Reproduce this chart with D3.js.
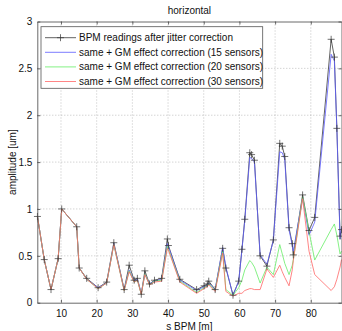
<!DOCTYPE html>
<html>
<head>
<meta charset="utf-8">
<script src="https://cdn.jsdelivr.net/npm/d3@7"></script>
<style>
  body { margin: 0; background: #fff; }
  svg { display: block; font-family: "Liberation Sans", Arial, sans-serif; }
</style>
</head>
<body>
<div id="wrapper"></div>
<script>
// BPM positions [m]
const sPos = [3.4, 5.3, 7.2, 9.2, 10.2, 14.4, 15.1, 17.2, 20.4, 22.8, 24.8, 27.7, 29.1, 30.5, 31.4, 32.5, 33.5, 34.8, 36.2, 38.2,
  39.8, 40.1, 43.3, 48.0, 50.1, 51.0, 51.4, 53.2, 55.3, 56.2, 58.2, 59.8, 60.7, 61.5, 62.9, 63.4, 64.2, 65.8, 67.7, 69.5,
  71.3, 72.0, 72.7, 73.9, 74.8, 75.1, 77.7, 79.5, 81.1, 85.7, 86.6, 87.3, 88.2, 88.6]

// BPM readings after jitter correction
const ampJitter = [0.92, 0.46, 0.14, 0.47, 1.00, 0.81, 0.37, 0.26, 0.16, 0.22, 0.64, 0.14, 0.40, 0.24, 0.26, 0.09, 0.34, 0.20, 0.24, 0.26,
  0.68, 0.61, 0.25, 0.14, 0.18, 0.20, 0.23, 0.14, 0.58, 0.37, 0.08, 0.23, 0.57, 0.89, 1.60, 1.58, 1.52, 0.50, 0.39, 0.67,
  1.70, 1.67, 1.56, 0.80, 0.63, 0.51, 1.15, 0.77, 0.91, 2.81, 2.62, 1.86, 0.71, 0.78]

// same + GM effect correction (15 sensors)
const amp15 = [0.92, 0.46, 0.14, 0.47, 1.00, 0.81, 0.37, 0.25, 0.16, 0.21, 0.63, 0.14, 0.35, 0.23, 0.25, 0.10, 0.31, 0.20, 0.23, 0.25,
  0.63, 0.60, 0.24, 0.13, 0.17, 0.19, 0.21, 0.14, 0.59, 0.38, 0.08, 0.23, 0.56, 0.88, 1.55, 1.54, 1.50, 0.51, 0.41, 0.66,
  1.61, 1.60, 1.53, 0.78, 0.61, 0.55, 1.12, 0.72, 0.86, 2.65, 2.58, 1.86, 0.68, 0.80]

// same + GM effect correction (20 sensors)
const amp20 = [0.92, 0.46, 0.14, 0.47, 1.00, 0.81, 0.37, 0.25, 0.15, 0.21, 0.62, 0.13, 0.34, 0.22, 0.24, 0.09, 0.31, 0.19, 0.23, 0.24,
  0.60, 0.57, 0.23, 0.11, 0.16, 0.18, 0.20, 0.13, 0.55, 0.14, 0.08, 0.16, 0.24, 0.35, 0.45, 0.43, 0.38, 0.21, 0.38, 0.30,
  0.62, 0.52, 0.42, 0.30, 0.40, 0.46, 1.13, 0.76, 0.455, 0.78, 0.84, 0.72, 0.52, 0.55]

// same + GM effect correction (30 sensors)
const amp30 = [0.92, 0.46, 0.14, 0.47, 1.00, 0.81, 0.37, 0.25, 0.15, 0.21, 0.62, 0.13, 0.33, 0.22, 0.24, 0.09, 0.30, 0.19, 0.22, 0.23,
  0.58, 0.56, 0.22, 0.10, 0.15, 0.17, 0.19, 0.12, 0.53, 0.12, 0.07, 0.10, 0.10, 0.13, 0.15, 0.15, 0.14, 0.14, 0.36, 0.27,
  0.40, 0.33, 0.27, 0.18, 0.35, 0.45, 1.11, 0.55, 0.30, 0.13, 0.17, 0.25, 0.38, 0.46]

const xTicks = [10, 20, 30, 40, 50, 60, 70, 80]
const yTicks = [0, 0.5, 1, 1.5, 2, 2.5, 3]

const legendLabels = [
  "BPM readings after jitter correction",
  "same + GM effect correction (15 sensors)",
  "same + GM effect correction (20 sensors)",
  "same + GM effect correction (30 sensors)",
]
const colors = ["#3a3a3a", "#5c5cff", "#66ee66", "#ff6666"]

function drawChart() {
  const dimensions = {
    width: 342,
    height: 331,
    margin: { top: 21.5, right: 0.5, bottom: 28.3, left: 37.3 },
  }
  dimensions.boundedWidth = dimensions.width - dimensions.margin.left - dimensions.margin.right
  dimensions.boundedHeight = dimensions.height - dimensions.margin.top - dimensions.margin.bottom

  const svg = d3.select("#wrapper").append("svg")
    .attr("width", dimensions.width)
    .attr("height", dimensions.height)

  const bounds = svg.append("g")
    .attr("transform", `translate(${dimensions.margin.left},${dimensions.margin.top})`)

  const xScale = d3.scaleLinear()
    .domain([3.36, 88.6])
    .range([0, dimensions.boundedWidth])
  const yScale = d3.scaleLinear()
    .domain([0, 3])
    .range([dimensions.boundedHeight, 0])

  // grid
  bounds.append("g").selectAll("line")
    .data(xTicks)
    .join("line")
    .attr("x1", d => xScale(d)).attr("x2", d => xScale(d))
    .attr("y1", 0).attr("y2", dimensions.boundedHeight)
    .attr("stroke", "#999").attr("stroke-width", 0.6)
    .attr("stroke-dasharray", "1,2")
  bounds.append("g").selectAll("line")
    .data(yTicks.slice(1, -1))
    .join("line")
    .attr("y1", d => yScale(d)).attr("y2", d => yScale(d))
    .attr("x1", 0).attr("x2", dimensions.boundedWidth)
    .attr("stroke", "#999").attr("stroke-width", 0.6)
    .attr("stroke-dasharray", "1,2")

  // series
  const series = [ampJitter, amp15, amp20, amp30]
  const line = d3.line()
    .x((d, i) => xScale(sPos[i]))
    .y(d => yScale(d))

  series.forEach((vals, k) => {
    bounds.append("path")
      .datum(vals)
      .attr("d", line)
      .attr("fill", "none")
      .attr("stroke", colors[k])
      .attr("stroke-width", 0.8)
  })

  // + markers for BPM readings
  const ms = 3.5
  bounds.append("g").selectAll("path")
    .data(ampJitter)
    .join("path")
    .attr("d", (d, i) => {
      const cx = xScale(sPos[i]), cy = yScale(d)
      return `M${cx - ms},${cy}H${cx + ms}M${cx},${cy - ms}V${cy + ms}`
    })
    .attr("stroke", "#333")
    .attr("stroke-width", 0.7)

  // axes (matlab style: ticks inside, box)
  const fmt = d => String(d)
  const xAxis = d3.axisBottom(xScale).tickValues(xTicks).tickSizeInner(-3).tickSizeOuter(0).tickPadding(7).tickFormat(fmt)
  const yAxis = d3.axisLeft(yScale).tickValues(yTicks).tickSizeInner(-3).tickSizeOuter(0).tickPadding(5).tickFormat(fmt)

  bounds.append("g")
    .attr("transform", `translate(0,${dimensions.boundedHeight})`)
    .call(xAxis)
  bounds.append("g").call(yAxis)
  bounds.append("g")
    .call(d3.axisTop(xScale).tickValues(xTicks).tickSizeInner(-3).tickSizeOuter(0).tickFormat(""))
  bounds.append("g")
    .attr("transform", `translate(${dimensions.boundedWidth},0)`)
    .call(d3.axisRight(yScale).tickValues(yTicks).tickSizeInner(-3).tickSizeOuter(0).tickFormat(""))

  bounds.selectAll(".domain").attr("stroke", "#444").attr("stroke-width", 0.8)
  bounds.selectAll(".tick line").attr("stroke", "#444").attr("stroke-width", 0.8)
  bounds.selectAll(".tick text").attr("font-size", 10).attr("fill", "#111")
    .attr("font-family", "Liberation Sans, Arial, sans-serif")

  // legend
  const legend = bounds.append("g").attr("transform", "translate(3.7,5.2)")
  legend.append("rect")
    .attr("width", 221.7).attr("height", 61.6)
    .attr("fill", "#fff").attr("stroke", "#555").attr("stroke-width", 0.8)
  const rows = legend.selectAll("g")
    .data(legendLabels)
    .join("g")
    .attr("transform", (d, i) => `translate(0,${11 + i * 14.6})`)
  rows.append("line")
    .attr("x1", 4).attr("x2", 35)
    .attr("stroke", (d, i) => colors[i])
    .attr("stroke-width", 0.8)
  rows.filter((d, i) => i === 0).append("path")
    .attr("d", `M${19.5 - ms},0H${19.5 + ms}M19.5,${-ms}V${ms}`)
    .attr("stroke", "#333").attr("stroke-width", 0.7)
  rows.append("text")
    .attr("x", 38).attr("dy", "0.35em")
    .attr("font-size", 10).attr("fill", "#111")
    .text(d => d)

  // labels
  svg.append("text")
    .attr("x", dimensions.margin.left + dimensions.boundedWidth / 2)
    .attr("y", 14)
    .attr("text-anchor", "middle")
    .attr("font-size", 10).attr("fill", "#111")
    .text("horizontal")
  svg.append("text")
    .attr("x", dimensions.margin.left + dimensions.boundedWidth / 2)
    .attr("y", 330)
    .attr("text-anchor", "middle")
    .attr("font-size", 10).attr("fill", "#111")
    .text("s BPM [m]")
  svg.append("text")
    .attr("transform", `translate(16,${dimensions.margin.top + dimensions.boundedHeight / 2}) rotate(-90)`)
    .attr("text-anchor", "middle")
    .attr("font-size", 10).attr("fill", "#111")
    .text("amplitude [um]")
}

drawChart()
</script>
</body>
</html>
